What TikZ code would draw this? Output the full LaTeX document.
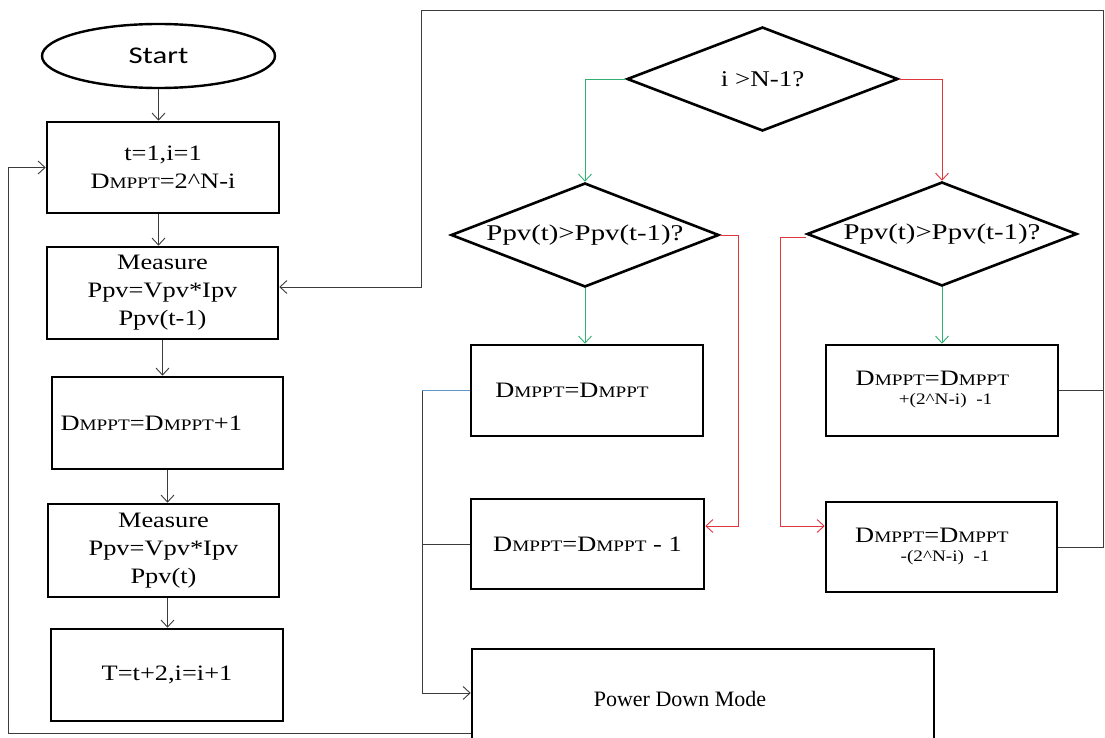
\documentclass[tikz,border=0pt]{standalone}
\usepackage{fontspec}
\setmainfont{Liberation Serif}
\newfontfamily\startfont{Carlito}
\usetikzlibrary{arrows.meta,shapes.geometric}
\newcommand{\sx}[1]{\scalebox{1.2}[1]{#1}}
\newcommand{\sxd}[1]{\scalebox{1.28}[1]{#1}}
\newcommand{\Dm}{{\fontsize{22}{26}\selectfont D}{\fontsize{16}{18}\selectfont MPPT}}
\definecolor{gcol}{RGB}{50,175,115}
\definecolor{rcol}{RGB}{222,55,60}
\definecolor{bcol}{RGB}{95,150,200}
\definecolor{lcol}{RGB}{60,60,60}
\begin{document}
\begin{tikzpicture}[x=1pt,y=-1pt,
  box/.style={draw=black,line width=2.6pt,rectangle,inner sep=0pt,align=center,font=\fontsize{22}{28}\selectfont},
  dia/.style={draw=black,line width=2.6pt,diamond,aspect=2.6,inner sep=0pt,font=\fontsize{22.5}{26}\selectfont},
  conn/.style={draw=lcol,line width=0.9pt},
  tip/.style={-{Straight Barb[length=7pt,width=13pt]}},
  gline/.style={draw=gcol,line width=0.9pt},
  rline/.style={draw=rcol,line width=0.9pt}]
\useasboundingbox (0,0) rectangle (1105,738);
\fill[white] (0,0) rectangle (1105,738);
% left column
\node[ellipse,draw=black,line width=2.4pt,minimum width=233pt,minimum height=64pt,inner sep=0pt,font=\startfont\fontsize{24}{28}\selectfont] (st) at (158.5,56) {\sxd{Start}};
\node[box,minimum width=232pt,minimum height=91pt] (b1) at (163,167.5) {\sx{t=1,i=1}\\\sx{\Dm=2\textasciicircum N-i}};
\node[box,minimum width=231pt,minimum height=92pt] (b2) at (162.5,293) {\sx{Measure}\\\sx{Ppv=Vpv*Ipv}\\\sx{Ppv(t-1)}};
\node[box,minimum width=231pt,minimum height=92pt] (b3) at (167.5,423) {\sx{\hspace*{-27pt}\Dm=\Dm+1}};
\node[box,minimum width=231pt,minimum height=93pt] (b4) at (163.5,550.5) {\sx{Measure}\\\sx{Ppv=Vpv*Ipv}\\\sx{Ppv(t)}};
\node[box,minimum width=232pt,minimum height=92pt] (b5) at (167,675) {\raisebox{-7pt}{\sx{T=t+2,i=i+1}}};
% decisions
\node[dia,minimum width=271pt,minimum height=104pt] (d1) at (762.5,79) {\sx{i >N-1?}};
\node[dia,minimum width=268pt,minimum height=104pt] (d2) at (585,235) {\sxd{Ppv(t)>Ppv(t-1)?}};
\node[dia,minimum width=270pt,minimum height=104pt] (d3) at (942,234) {\sxd{Ppv(t)>Ppv(t-1)?}};
% right boxes
\node[box,minimum width=232pt,minimum height=91pt] (l1) at (587,390.5) {\sx{\hspace*{-25pt}\Dm=\Dm}};
\node[box,minimum width=233pt,minimum height=90pt] (l2) at (587.5,544) {\sx{\Dm=\Dm\ - 1}};
\node[box,minimum width=232pt,minimum height=91pt,font=\fontsize{22}{23}\selectfont] (r1) at (942,390.5) {\raisebox{-12pt}{\begin{tabular}{@{}c@{}}\sx{\hspace*{-16pt}\Dm=\Dm}\\[-4pt]\sx{\fontsize{16}{18}\selectfont\hspace*{6pt}+(2\textasciicircum N-i)\ \ -1}\end{tabular}}};
\node[box,minimum width=231pt,minimum height=90pt,font=\fontsize{22}{23}\selectfont] (r2) at (941.5,547) {\begin{tabular}{@{}c@{}}\sx{\hspace*{-16pt}\Dm=\Dm}\\[-4pt]\sx{\fontsize{16}{18}\selectfont\hspace*{6pt}-(2\textasciicircum N-i)\ \ -1}\end{tabular}};
\node[box,minimum width=462pt,minimum height=111pt] (pd) at (703,704.5) {\raisebox{10.5pt}{\hspace*{-46pt}Power Down Mode}};
% left column arrows
\draw[conn,tip] (st.south) -- (st.south |- b1.north);
\draw[conn,tip] (b1.south -| st.south) -- (st.south |- b2.north);
\draw[conn,tip] (b2.south) -- (b2.south |- b3.north);
\draw[conn,tip] (b3.south) -- (b3.south |- b4.north);
\draw[conn,tip] (b4.south -| b3.south) -- (b3.south |- b5.north);
% decision branches
\draw[gline,tip] (d1.west) -| (d2.north);
\draw[rline,tip] (d1.east) -| (d3.north);
\draw[gline,tip] (d2.south) -- (d2.south |- l1.north);
\draw[gline,tip] (d3.south) -- (d3.south |- r1.north);
\coordinate (rb1) at (738,526);
\coordinate (rb2) at (780,526);
\draw[rline,tip] (d2.east) -| (rb1) -- (rb1 -| l2.east);
\draw[rline,tip] ([yshift=-3pt]d3.west) -| (rb2) -- (rb2 -| r2.west);
% collector to power down
\coordinate (cx) at (422,391);
\draw[draw=bcol,line width=0.9pt] (l1.west) -- (l1.west -| cx);
\draw[conn] (l2.west) -- (l2.west -| cx);
\draw[conn,tip] (l1.west -| cx) |- ([yshift=11.5pt]pd.west);
% loop back from power down to init
\coordinate (lb) at (8,733);
\draw[conn,tip] (pd.west |- lb) -- (lb) |- (b1.west);
% outer loop on the right and top
\coordinate (tr) at (1103,10);
\coordinate (tl) at (421,10);
\draw[conn] (r1.east) -- (r1.east -| tr);
\draw[conn,tip] (r2.east) -| (tr) -- (tl) |- ([yshift=6pt]b2.east);
\end{tikzpicture}
\end{document}
